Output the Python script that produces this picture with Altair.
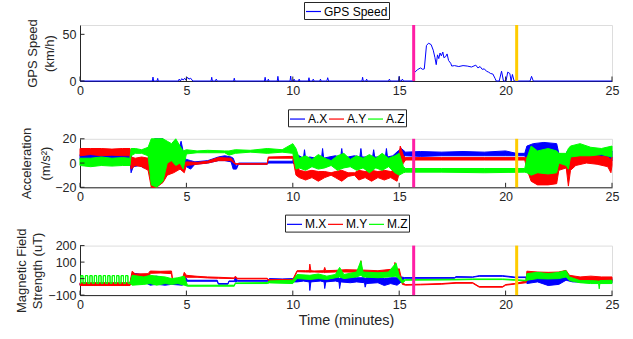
import altair as alt
import pandas as pd

FONT = "Liberation Sans"
AXIS_COLOR = "#262626"
X_TICKS = [0, 5, 10, 15, 20, 25]
EVENT_START = [15.68]
EVENT_END = [20.52]

# ---------- GPS speed (km/h) ----------
GPS_T = [0.0, 3.40, 3.43, 3.46, 3.62, 3.65, 3.68, 4.63, 4.66, 4.72, 4.78, 4.85, 4.92,
         4.98, 5.05, 5.12, 5.20, 5.30, 6.16, 6.19, 6.22, 6.37, 6.40, 6.45, 7.22, 7.25,
         7.28, 8.67, 8.70, 8.73, 8.82, 8.85, 8.88, 9.27, 9.30, 9.33, 9.87, 9.90, 9.93,
         10.03, 10.06, 10.10, 10.27, 10.30, 10.33, 10.73, 10.76, 10.79, 10.93, 10.96,
         11.00, 11.27, 11.30, 11.33, 11.60, 11.64, 11.68, 13.25, 13.28, 13.31, 13.43,
         13.47, 13.50, 14.50, 14.54, 14.58, 14.97, 15.00, 15.03, 15.10, 15.15, 15.20,
         15.66, 15.72, 15.85, 16.00, 16.10, 16.18, 16.28, 16.38, 16.50, 16.60, 16.68,
         16.74, 16.80, 16.86, 16.92, 16.98, 17.05, 17.10, 17.18, 17.25, 17.32, 17.42,
         17.47, 17.60, 17.80, 18.00, 18.20, 18.40, 18.60, 18.70, 18.80, 18.90, 19.00,
         19.10, 19.20, 19.30, 19.40, 19.50, 19.56, 19.70, 19.81, 19.90, 20.02, 20.10,
         20.20, 20.26, 20.32, 20.40, 21.15, 21.22, 21.30, 25.0]
GPS_V = [0, 0, 4.2, 0, 0, 2.8, 0, 0, 2, 0, 2.5, 1, 3,
         1, 4, 2, 3, 0, 0, 4, 0, 0, 2, 0, 0, 3,
         0, 0, 4, 0, 0, 2, 0, 0, 5, 0, 0, 5.3, 0,
         0, 2, 0, 0, 2, 0, 0, 3.5, 0, 0, 2,
         0, 0, 2, 0, 0, 3.5, 0, 0, 4, 0, 0,
         2, 0, 0, 2, 0, 0, 5, 0, 0, 2, 0,
         0, 9, 12, 14, 12.5, 13, 38, 40.5, 39, 33, 25,
         17.5, 28, 24, 30, 27, 31, 25, 26, 29, 22, 19,
         16, 16.5, 15.5, 16.5, 16, 15, 17, 14, 15.5, 12.5, 13,
         10.5, 9.5, 8, 7.5, 3, 0, 0, 10.5, 0, 0, 9.5,
         8, 0, 7, 0, 0, 5, 0, 0]

# ---------- Acceleration (m/s^2): (time, low, high) envelopes ----------
AX = [(0.0, 3, 7), (0.5, 3, 7.5), (1.0, 2.5, 7), (1.5, 3, 7), (2.0, 3, 7.5), (2.35, 3, 7),
      (2.4, -8, 6), (2.5, -3, 3), (2.8, -2, 3), (3.0, -4, 2), (3.2, -3, 3),
      (3.35, -10, 15), (3.5, -15, 20), (3.7, -8, 20), (3.9, -5, 20), (4.0, -2, 16),
      (4.2, 0, 10), (4.4, 0, 14), (4.6, -2, 8), (4.75, 0, 18), (4.9, -3, 5),
      (5.0, -3, 3), (5.2, -5, 2), (5.4, -1, 1), (6.0, 0, 2), (6.5, 2, 5), (6.8, 2, 6),
      (7.1, 1, 5), (7.2, -5, 4), (7.35, -5, -3), (7.45, -1, 0), (8.8, -1, 0),
      (8.85, 0, 1.5), (10.0, 0, 1.5), (10.1, -1, 8), (10.3, 0, 6), (10.5, -1, 4),
      (10.55, 0, 11), (10.6, -1, 4), (10.8, 0, 5), (11.1, 1, 4), (11.35, 0, 4),
      (11.4, 0, 12), (11.45, 0, 4), (11.7, 1, 5), (12.0, 0, 6), (12.25, 1, 5),
      (12.3, 2, 12), (12.35, 1, 5), (12.6, 1, 5), (12.9, 0, 6), (13.15, 1, 5),
      (13.2, 1, 12), (13.25, 1, 5), (13.5, 0, 5), (13.75, -1, 5), (13.8, -1, 11),
      (13.85, -1, 5), (14.1, 0, 5), (14.35, -1, 5), (14.4, -1, 12), (14.45, -1, 5),
      (14.7, 0, 6), (14.95, 2, 10),
      (15.1, 5, 12), (15.3, 6, 9), (16.0, 5.5, 9.5), (17.0, 6, 9), (18.0, 6, 9.5),
      (19.0, 6, 9), (20.0, 6, 10), (20.5, 6, 8), (20.9, 6, 8),
      (21.0, 2, 14), (21.3, 6, 16), (21.8, 6, 17), (22.4, 7, 16),
      (22.5, 2, 8), (22.8, 2, 6), (22.9, -5, 10), (23.0, -2, 6), (23.2, 0, 7),
      (23.6, 1, 8), (24.0, 2, 7), (24.5, 2, 7.5), (24.9, 0, 7), (25.0, 2, 10)]

AY = [(0.0, 6, 12), (0.5, 7, 12), (1.0, 6, 12), (1.5, 6.5, 11.5), (2.0, 6, 12), (2.35, 6, 12),
      (2.4, -5, 5), (2.6, -2, 4), (2.9, -3, 5), (3.2, -6, 4),
      (3.35, -20, 10), (3.6, -20, 5), (3.9, -16, 6), (4.1, -10, 3), (4.4, -8, 5),
      (4.7, -5, 2), (4.9, -8, 0), (5.0, -2, 1), (5.5, -1, 0.5), (6.0, 0, 1.5),
      (6.5, 2, 4.5), (7.1, 2, 4), (7.3, -1, -0.5), (8.8, -1, -0.5),
      (8.85, 4, 5), (10.0, 4, 5.5), (10.15, -10, 8),
      (10.3, -12, -6), (10.6, -14, -7), (10.9, -12, -6), (11.2, -15, -7), (11.5, -12, -7),
      (11.8, -10, -8), (12.0, -12, -7), (12.3, -15, -6), (12.6, -11, -8), (12.9, -10, -8),
      (13.1, -14, -6), (13.4, -12, -7), (13.7, -15, -6), (14.0, -12, -7), (14.3, -14, -6),
      (14.6, -12, -7), (14.9, -15, -5), (15.05, -5, 14), (15.2, 0, 6), (15.3, 2.5, 4.5),
      (17.0, 2.5, 4.5), (19.0, 2.5, 4.5), (20.9, 2.5, 4.5),
      (21.0, -5, 5), (21.2, -15, -5), (21.5, -18, -8), (22.0, -18, -8), (22.4, -17, -7),
      (22.5, -6, 0), (22.85, -4, 2), (22.95, -19, -2), (23.05, -6, 4), (23.3, -2, 6),
      (23.8, 0, 6), (24.3, -1, 6), (24.8, -3, 5), (24.95, -8, 3), (25.0, -2, 5)]

AZ = [(0.0, -2, 4), (0.5, -3, 4), (1.0, -2, 5), (1.5, -2.5, 4), (2.0, -2, 4.5), (2.35, -2, 4),
      (2.4, 6, 12), (2.6, 8, 12), (2.9, 8, 11), (3.2, 6, 13),
      (3.35, -18, 20), (3.6, -20, 20), (3.9, -15, 20), (4.1, 0, 18), (4.3, 2, 16),
      (4.5, -2, 20), (4.7, 0, 14), (4.85, -5, 10), (5.0, 7.5, 11), (5.5, 8.5, 10),
      (6.0, 8.5, 10.5), (6.8, 8.5, 10), (7.0, 6.5, 10), (7.3, 8, 11), (8.0, 9, 10.5),
      (8.8, 8, 12), (9.5, 9, 11), (10.0, 8, 16), (10.15, -5, 12),
      (10.3, -4, 4), (10.6, -6, 6), (10.9, -3, 3), (11.2, -5, 7), (11.5, -4, 4), (11.8, -2, 2),
      (12.1, -6, 6), (12.4, -4, 8), (12.7, -3, 3), (13.0, -6, 6), (13.3, -4, 4), (13.6, -8, 7),
      (13.9, -4, 4), (14.2, -6, 8), (14.5, -3, 4), (14.8, -8, 6), (15.0, -10, 8),
      (15.2, -8, -3), (15.3, -7.5, -4.5), (17.0, -7.5, -4.5), (19.0, -8, -4.5), (20.9, -7.5, -4.5),
      (21.0, -8, 4), (21.2, -10, 14), (21.5, -8, 10), (22.0, -9, 12), (22.4, -8, 10),
      (22.5, 0, 8), (22.85, -2, 8), (22.95, -5, 12), (23.05, 5, 14), (23.5, 6, 16),
      (24.0, 6, 13), (24.5, 7, 12), (25.0, 5, 14)]

# ---------- Magnetic field (uT): (time, low, high) envelopes ----------
MX = [(0.0, -40, -28), (2.35, -40, -28), (2.45, -10, 30), (2.7, 5, 30), (3.0, -20, 20),
      (3.3, -40, 10), (3.6, -35, 15), (4.0, -40, 0), (4.3, -35, -10), (4.8, -40, -20),
      (4.95, -30, 10), (5.05, -16, -10), (6.45, -16, -10), (6.5, -34, -30), (6.95, -34, -30),
      (7.0, -18, -14), (7.25, -18, -14), (7.3, -20, 10), (7.4, -16, -12), (8.8, -16, -12),
      (8.9, -20, 0), (9.5, -15, -2), (10.0, -20, 0), (10.2, -20, 5), (10.5, -15, 5),
      (10.77, -20, 5), (10.8, -72, 0), (10.85, -20, 5), (11.3, -15, 5), (11.47, -20, 5),
      (11.5, -60, 0), (11.55, -20, 5), (12.0, -15, 10), (12.17, -20, 5), (12.2, -60, 0),
      (12.25, -20, 5), (12.7, -25, 10), (13.0, -20, 5), (13.37, -25, 5), (13.4, -52, 0),
      (13.45, -30, 5), (14.0, -25, 5), (14.3, -42, 0), (14.6, -30, 5), (14.9, -40, 5),
      (15.1, -20, 10), (15.25, 2, 6), (17.6, 2, 6), (17.67, 8, 12), (18.45, 8, 10),
      (18.76, 14, 18), (19.86, 14, 18), (20.41, 6, 10), (20.96, 6, 10), (21.0, -30, 10),
      (21.5, -20, 8), (22.0, -42, 0), (22.5, -35, 5), (22.84, -10, 10), (23.15, -20, 0),
      (24.0, -22, -2), (24.5, -20, 0), (25.0, -25, 0)]

MY = [(0.0, -42, -25), (2.35, -42, -25), (2.45, -20, 45), (2.6, -12, 28), (3.2, -10, 30),
      (3.3, 32, 46), (3.8, 34, 44), (4.3, 30, 46), (4.35, -15, -8), (4.8, -15, -5),
      (4.9, 0, 38), (5.0, 8, 20), (5.5, 8, 14), (6.0, 4, 10), (6.5, 2, 8), (7.25, 0, 4),
      (7.3, 5, 15), (7.4, -2, 2), (8.8, -2, 2), (8.85, -12, -6), (10.0, -15, -5),
      (10.2, 42, 48), (10.6, 40, 48), (10.77, 40, 48), (10.8, 38, 88), (10.85, 40, 48),
      (11.0, 40, 46), (11.45, 38, 48), (11.5, 36, 68), (11.55, 38, 48), (12.0, 40, 50),
      (12.5, 40, 54), (13.15, 38, 52), (13.2, 30, 108), (13.25, 38, 52), (14.0, 36, 48),
      (14.6, 38, 56), (14.75, 36, 52), (14.8, 30, 98), (14.85, 36, 52), (15.0, 20, 60),
      (15.15, -35, -25), (15.3, -40, -36), (16.0, -38, -34), (17.0, -34, -30),
      (17.67, -28, -24), (18.45, -28, -24), (18.76, -52, -48), (19.86, -52, -48),
      (20.0, -40, -36), (20.41, -34, -30), (20.96, -25, -15), (21.0, -10, 45), (21.5, 15, 40),
      (22.0, 18, 38), (22.5, 15, 40), (22.84, 20, 50), (23.0, -10, 20), (23.5, -20, 10),
      (24.0, -15, 15), (24.5, -20, 10), (25.0, -15, 10)]

MZ = [(0.0, -28, -28), (0.04, -28, -28), (0.045, 18, 18), (0.14, 18, 18), (0.145, -28, -28),
      (0.25, -28, -28), (0.255, 18, 18), (0.36, 18, 18), (0.365, -28, -28),
      (0.46, -28, -28), (0.465, 18, 18), (0.57, 18, 18), (0.575, -28, -28),
      (0.67, -28, -28), (0.675, 18, 18), (0.78, 18, 18), (0.785, -28, -28),
      (0.88, -28, -28), (0.885, 18, 18), (0.99, 18, 18), (0.995, -28, -28),
      (1.09, -28, -28), (1.095, 18, 18), (1.20, 18, 18), (1.205, -28, -28),
      (1.30, -28, -28), (1.305, 18, 18), (1.41, 18, 18), (1.415, -28, -28),
      (1.51, -28, -28), (1.515, 18, 18), (1.62, 18, 18), (1.625, -28, -28),
      (1.72, -28, -28), (1.725, 18, 18), (1.83, 18, 18), (1.835, -28, -28),
      (1.93, -28, -28), (1.935, 18, 18), (2.04, 18, 18), (2.045, -28, -28),
      (2.14, -28, -28), (2.145, 18, 18), (2.25, 18, 18), (2.255, -28, -28), (2.35, -28, -28),
      (2.45, -40, 20), (3.0, -35, 10), (3.3, -30, 20), (3.6, -40, 15), (4.0, -30, 10),
      (4.3, -35, 0), (4.6, -30, 5), (4.9, -40, 15), (5.05, -46, -40), (7.25, -46, -40),
      (7.3, -30, -26), (8.8, -30, -24), (8.9, -26, -14), (10.0, -30, -10),
      (10.2, 0, 25), (10.8, -5, 20), (11.2, 0, 28), (11.6, -5, 15), (12.0, 5, 25),
      (12.2, 10, 68), (12.4, 0, 25), (13.0, 10, 40), (13.2, 20, 108), (13.3, 10, 40),
      (14.0, 5, 35), (14.5, 10, 40), (14.85, 15, 95), (15.0, -5, 20), (15.15, -28, -10),
      (15.3, -10, -6), (17.67, -8, -4), (18.45, -6, -2), (19.86, -6, -2), (20.41, -10, -6),
      (20.96, -14, -10), (21.0, -10, 30), (21.5, 0, 38), (22.0, -2, 30), (22.5, 0, 38),
      (22.84, 10, 48), (23.0, -12, 10), (23.5, -25, -12), (24.0, -30, -12),
      (24.37, -30, -15), (24.4, -62, -15), (24.43, -30, -12), (25.0, -30, -10)]

BLUE, RED, GREEN = "#0000FF", "#FF0000", "#00FF00"
MAGENTA, YELLOW = "#FF1FA5", "#FFCC00"


def band_frame(name, rows):
    return pd.DataFrame({"t": [r[0] for r in rows], "lo": [r[1] for r in rows],
                         "hi": [r[2] for r in rows], "series": name})


def axes(height, ydom, yticks, ytitle, title_x, title_lh, xtitle):
    xscale = alt.Scale(domain=[0, 25], nice=False, zero=False)
    yscale = alt.Scale(domain=ydom, nice=False, zero=False)
    xaxis = alt.Axis(values=X_TICKS, title=xtitle, grid=False, ticks=False, format="d",
                     domainColor=AXIS_COLOR, domainWidth=1, labelFont=FONT,
                     labelFontSize=12.5, labelColor=AXIS_COLOR, labelPadding=3,
                     labelFlush=False, labelOverlap=False, titleFont=FONT,
                     titleFontSize=14.4, titleFontWeight="normal", titleColor=AXIS_COLOR,
                     titlePadding=3)
    yaxis = alt.Axis(values=yticks, title=ytitle, grid=False, ticks=False,
                     domainColor=AXIS_COLOR, domainWidth=1, labelFont=FONT,
                     labelFontSize=12.5, labelColor=AXIS_COLOR, labelPadding=4,
                     labelOverlap=False, titleFont=FONT, titleFontSize=13,
                     titleFontWeight="normal", titleColor=AXIS_COLOR, titleX=title_x,
                     titleY=height / 2, titleAlign="center", titleBaseline="top",
                     titleLineHeight=title_lh)
    return xscale, yscale, xaxis, yaxis


def legend(lx, ly, cpad):
    return alt.Legend(orient="none", legendX=lx, legendY=ly, direction="horizontal",
                      title=None, symbolType="stroke", symbolSize=225,
                      symbolStrokeWidth=1.2, labelFont=FONT, labelFontSize=12,
                      labelColor="black", labelOffset=2, columnPadding=cpad, padding=1,
                      strokeColor=AXIS_COLOR, fillColor="white")


def overlays(height, xscale, yscale, xaxis, yaxis, yticks):
    x = alt.X("t:Q", scale=xscale, axis=xaxis)
    start = alt.Chart(pd.DataFrame({"t": EVENT_START})).mark_rule(
        color=MAGENTA, strokeWidth=3).encode(x=x)
    end = alt.Chart(pd.DataFrame({"t": EVENT_END})).mark_rule(
        color=YELLOW, strokeWidth=3).encode(x=x)
    xt = alt.Chart(pd.DataFrame({"t": X_TICKS})).mark_rule(
        color=AXIS_COLOR, strokeWidth=1).encode(
        x=x, y=alt.value(height), y2=alt.value(height - 4.5))
    yt = alt.Chart(pd.DataFrame({"v": yticks})).mark_rule(
        color=AXIS_COLOR, strokeWidth=1).encode(
        y=alt.Y("v:Q", scale=yscale, axis=yaxis), x=alt.value(0), x2=alt.value(4.5))
    return [start, end, xt, yt]


def band_panel(series, names, colors, height, ydom, yticks, ytitle, title_x, title_lh,
               lx, ly, cpad, xtitle):
    xscale, yscale, xaxis, yaxis = axes(height, ydom, yticks, ytitle, title_x, title_lh, xtitle)
    stroke_scale = alt.Scale(domain=names, range=colors)
    layers = []
    for name, rows, col in zip(names, series, colors):
        df = band_frame(name, rows)
        layers.append(alt.Chart(df).mark_area(fill=col, strokeWidth=1, opacity=1).encode(
            x=alt.X("t:Q", scale=xscale, axis=xaxis),
            y=alt.Y("lo:Q", scale=yscale, axis=yaxis),
            y2="hi:Q",
            stroke=alt.Stroke("series:N", scale=stroke_scale, legend=legend(lx, ly, cpad)),
        ))
    layers += overlays(height, xscale, yscale, xaxis, yaxis, yticks)
    return alt.layer(*layers).properties(width=532, height=height)


# Panel 1: GPS speed
h1 = 56
xs1, ys1, xa1, ya1 = axes(h1, [0, 60], [0, 50], ["GPS Speed", "(km/h)"], -54, 17.5, None)
gps_df = pd.DataFrame({"t": GPS_T, "v": GPS_V, "series": "GPS Speed"})
gps_line = alt.Chart(gps_df).mark_line(strokeWidth=1).encode(
    x=alt.X("t:Q", scale=xs1, axis=xa1),
    y=alt.Y("v:Q", scale=ys1, axis=ya1),
    stroke=alt.Stroke("series:N", scale=alt.Scale(domain=["GPS Speed"], range=[BLUE]),
                      legend=legend(224, -23, 0)),
)
p1 = alt.layer(gps_line, *overlays(h1, xs1, ys1, xa1, ya1, [0, 50])).properties(
    width=532, height=h1)

# Panel 2: acceleration
p2 = band_panel([AX, AY, AZ], ["A.X", "A.Y", "A.Z"], [BLUE, RED, GREEN], 48.5,
                [-20, 20], [-20, 0, 20], ["Acceleration", "(m/s²)"], -60, 19,
                208, -29.5, -11, None)

# Panel 3: magnetic field
p3 = band_panel([MX, MY, MZ], ["M.X", "M.Y", "M.Z"], [BLUE, RED, GREEN], 49.5,
                [-100, 200], [-100, 0, 100, 200], ["Magnetic Field", "Strength (uT)"],
                -65, 16.7, 205, -31, -11.5, "Time (minutes)")

chart = alt.vconcat(p1, p2, p3, spacing=57.8, bounds="flush").resolve_scale(
    x="independent", y="independent", stroke="independent"
).resolve_legend(stroke="independent").properties(
    padding={"left": 14, "top": 1, "right": 5, "bottom": 5},
    background="white",
).configure_view(stroke=None).configure(font=FONT)

chart.save("out.html", embed_options={"renderer": "svg", "actions": False})
